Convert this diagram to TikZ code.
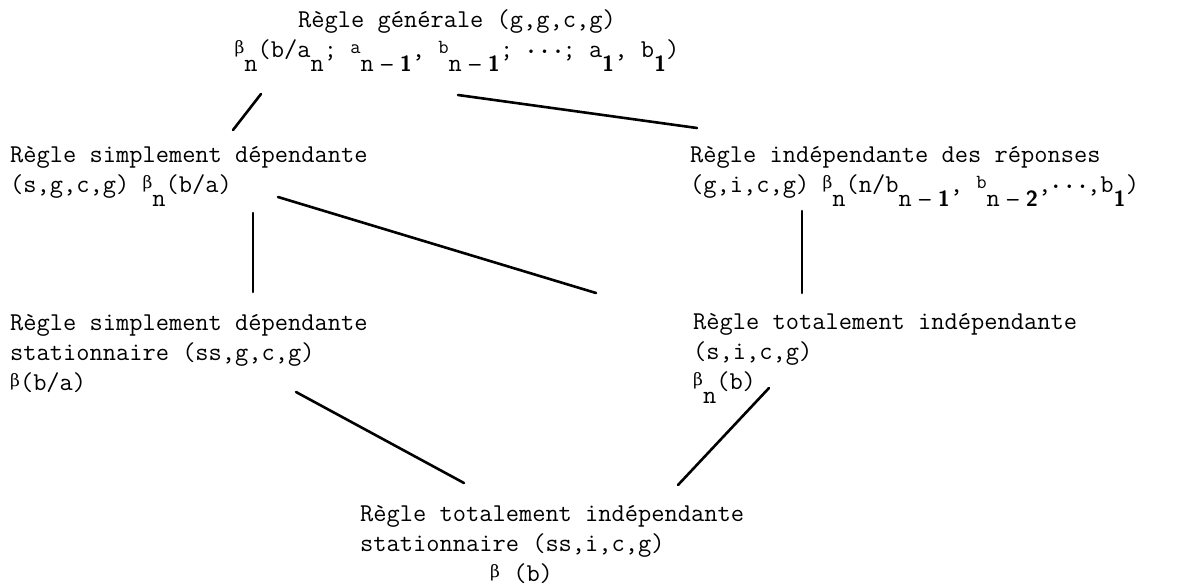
\documentclass[tikz,border=0pt]{standalone}
\usepackage{fontspec}
\newfontfamily\grk{DejaVu Serif}
\setlength{\lineskiplimit}{-100pt}
\newcommand\bet{{\grk\fontsize{17}{17}\selectfont\raisebox{4pt}{β}}}
\newcommand\sbs[1]{\raisebox{-14pt}{#1}}
\newcommand\one{{\sffamily\bfseries\fontsize{22}{22}\selectfont 1}}
\newcommand\two{{\sffamily\bfseries\fontsize{22}{22}\selectfont 2}}
\newcommand\nm[1]{\sbs{n\makebox[26pt]{\sffamily\bfseries\fontsize{22}{22}\selectfont\textendash}#1}}
\newcommand\upp[1]{\raisebox{4pt}{{\fontsize{20}{20}\selectfont #1}}}
\newcommand\dts{{\bfseries\raisebox{4pt}{\makebox[36pt]{.\hfil.\hfil.}}}}
\tikzset{
  lbl/.style={anchor=base west, align=left, inner sep=0pt,
    font=\ttfamily\fontsize{25.7}{30}\selectfont},
  link/.style={line width=2.6pt, line cap=round}
}
\begin{document}
\begin{tikzpicture}[x=1pt,y=-1pt]
\useasboundingbox (0,0) rectangle (1196,588);
\node[lbl, align=center, anchor=base] (gen) at (457,58)
  {Règle générale (g,g,c,g)\\ \bet\sbs{n}(b/a\sbs{n}; \upp{a}\nm{\one}, \upp{b}\nm{\one}; \dts; a\sbs{\one}, b\sbs{\one})};
\node[lbl] (sd) at (10,193)
  {Règle simplement dépendante\\ (s,g,c,g) \bet\sbs{n}(b/a)};
\node[lbl] (ir) at (690,193)
  {Règle indépendante des réponses\\ (g,i,c,g) \bet\sbs{n}(n/b\nm{\one}, \upp{b}\nm{\two},\dts,b\sbs{\one})};
\node[lbl] (sds) at (10,390)
  {Règle simplement dépendante\\ stationnaire (ss,g,c,g)\\ \bet(b/a)};
\node[lbl] (ti) at (693,389)
  {Règle totalement indépendante\\ (s,i,c,g)\\ \bet\sbs{n}(b)};
\node[lbl] (tis) at (360,581)
  {Règle totalement indépendante\\ stationnaire (ss,i,c,g)\\ \hspace*{130pt}\bet\ (b)};
\coordinate (a1) at (261,94);  \coordinate (a2) at (233,130);
\coordinate (b1) at (458,95);  \coordinate (b2) at (697,128);
\coordinate (c1) at (253,213); \coordinate (c2) at (253,292);
\coordinate (d1) at (278,197); \coordinate (d2) at (596,293);
\coordinate (e1) at (802,211); \coordinate (e2) at (802,293);
\coordinate (f1) at (296,392); \coordinate (f2) at (464,483);
\coordinate (g1) at (769,388); \coordinate (g2) at (678,485);
\draw[link] (a1) -- (a2);
\draw[link] (b1) -- (b2);
\draw[link] (c1) -- (c2);
\draw[link] (d1) -- (d2);
\draw[link] (e1) -- (e2);
\draw[link] (f1) -- (f2);
\draw[link] (g1) -- (g2);
\end{tikzpicture}
\end{document}
